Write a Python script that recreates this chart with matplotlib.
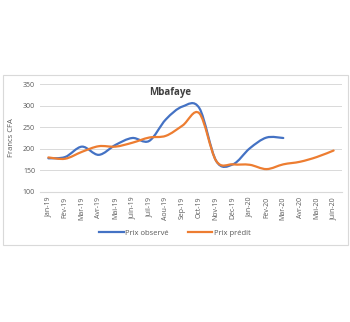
import numpy as np
import matplotlib
matplotlib.use('Agg')
import matplotlib.pyplot as plt
from matplotlib.path import Path
from matplotlib.patches import PathPatch, Rectangle

months = ['Jan-19', 'Fév-19', 'Mar-19', 'Avr-19', 'Mai-19', 'Juin-19', 'Juil-19', 'Aou-19', 'Sep-19',
          'Oct-19', 'Nov-19', 'Déc-19', 'Jan-20', 'Fév-20', 'Mar-20', 'Avr-20', 'Mai-20', 'Juin-20']
observe = [178, 181, 205, 186, 209, 225, 218, 268, 298, 294, 172, 164, 201, 226, 225]
predit = [180, 177, 193, 206, 205, 214, 226, 230, 254, 282, 172, 164, 163, 153, 164, 170, 181, 196]


def smooth_path(xs, ys, t=1/6):
    # Excel-like smoothed line: cubic Bezier through each point (Catmull-Rom tangents)
    pts = np.column_stack([xs, ys]).astype(float)
    verts = [pts[0]]
    codes = [Path.MOVETO]
    n = len(pts)
    for i in range(n - 1):
        p0 = pts[max(i - 1, 0)]
        p1 = pts[i]
        p2 = pts[i + 1]
        p3 = pts[min(i + 2, n - 1)]
        c1 = p1 + (p2 - p0) * t
        c2 = p2 - (p3 - p1) * t
        verts += [c1, c2, p2]
        codes += [Path.CURVE4] * 3
    return Path(verts, codes)


plt.rcParams['font.family'] = ['Open Sans', 'DejaVu Sans']
fig = plt.figure(figsize=(3.5, 3.22), dpi=100)
fig.patches.append(Rectangle((3 / 350, 1 - 245 / 322), 345 / 350, 170 / 322,
                             transform=fig.transFigure, fill=False, edgecolor='#d9d9d9', lw=0.8))
ax = fig.add_axes([40 / 350, 1 - 192 / 322, 302 / 350, 108 / 322])

for vals, color, lab in [(observe, '#4472c4', 'Prix observé'), (predit, '#ed7d31', 'Prix prédit')]:
    x = np.arange(len(vals))
    ax.add_patch(PathPatch(smooth_path(x, vals), fill=False, edgecolor=color, lw=1.6,
                           capstyle='round', joinstyle='round'))
    ax.plot([], [], color=color, lw=1.6, label=lab)

ax.set_xlim(-0.5, len(months) - 0.5)
ax.set_ylim(100, 350)
ax.set_yticks(range(100, 351, 50))
ax.set_xticks(range(len(months)))
ax.set_xticklabels(months, rotation=90)
ax.tick_params(axis='both', labelsize=5, colors='#595959', length=0)
ax.grid(axis='y', color='#d9d9d9', lw=0.7)
ax.set_axisbelow(True)
for s in ['top', 'right', 'left']:
    ax.spines[s].set_visible(False)
ax.spines['bottom'].set_color('#d9d9d9')
ax.set_ylabel('Francs CFA', fontsize=5.5, color='#595959', labelpad=6)
ax.text(0.43, 0.9, 'Mbafaye', transform=ax.transAxes, fontsize=7, fontweight='bold',
        color='#404040', ha='center')
fig.legend(loc='center', bbox_to_anchor=(0.5, 1 - 233 / 322), ncol=2, frameon=False,
           fontsize=5.5, handlelength=3.2, columnspacing=2.5, handletextpad=0.2,
           labelcolor='#595959')

fig.savefig('out.png', dpi=100)
